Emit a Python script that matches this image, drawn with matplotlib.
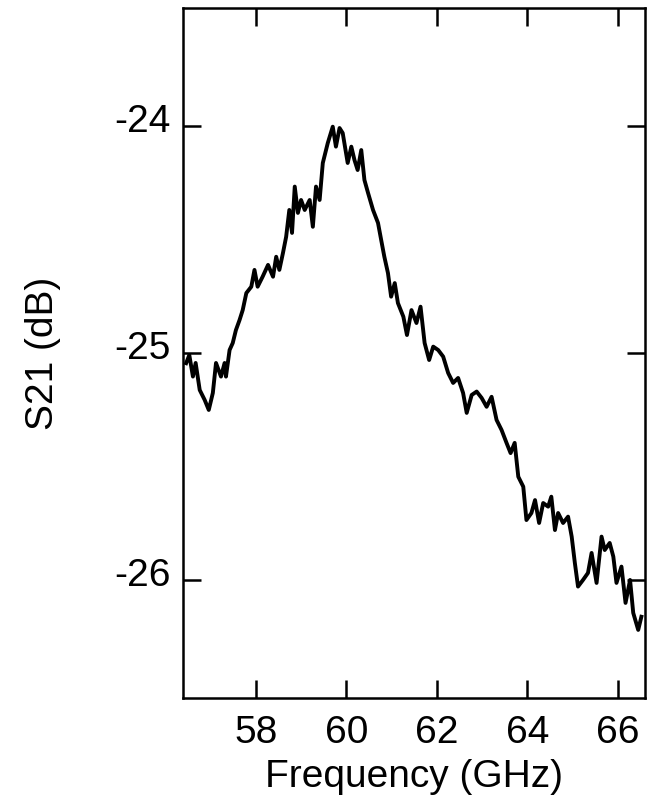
import matplotlib
matplotlib.use("Agg")
import matplotlib.pyplot as plt
import matplotlib.transforms as mtransforms

plt.rcParams['font.family'] = ['Liberation Sans', 'DejaVu Sans']

# traced S21 trace (GHz, dB)
freq_ghz = [
    56.46, 56.53, 56.61, 56.67, 56.76, 56.87, 56.96, 57.05, 57.12, 57.23,
    57.31, 57.34, 57.42, 57.49, 57.56, 57.64, 57.71, 57.79, 57.90, 57.97,
    58.04, 58.15, 58.27, 58.38, 58.45, 58.52, 58.60, 58.67, 58.74, 58.80,
    58.86, 58.93, 59.00, 59.08, 59.19, 59.26, 59.33, 59.41, 59.48, 59.59,
    59.70, 59.77, 59.85, 59.92, 60.03, 60.11, 60.18, 60.25, 60.33, 60.40,
    60.48, 60.59, 60.70, 60.77, 60.84, 60.92, 60.99, 61.07, 61.14, 61.26,
    61.34, 61.44, 61.55, 61.64, 61.73, 61.83, 61.92, 62.03, 62.14, 62.25,
    62.36, 62.47, 62.58, 62.66, 62.77, 62.88, 62.99, 63.10, 63.21, 63.32,
    63.43, 63.54, 63.63, 63.72, 63.80, 63.91, 63.98, 64.09, 64.17, 64.26,
    64.35, 64.46, 64.53, 64.61, 64.68, 64.79, 64.90, 64.98, 65.05, 65.12,
    65.23, 65.34, 65.42, 65.53, 65.64, 65.71, 65.82, 65.90, 65.97, 66.08,
    66.17, 66.27, 66.34, 66.45, 66.52,
]
s21_db = [
    -25.045, -25.009, -25.104, -25.044, -25.163, -25.207, -25.251, -25.176, -25.044, -25.104,
    -25.044, -25.104, -24.987, -24.956, -24.899, -24.855, -24.811, -24.736, -24.708, -24.634,
    -24.708, -24.664, -24.612, -24.664, -24.576, -24.634, -24.559, -24.488, -24.370, -24.471,
    -24.267, -24.383, -24.326, -24.370, -24.326, -24.444, -24.267, -24.326, -24.163, -24.075,
    -24.003, -24.091, -24.009, -24.031, -24.163, -24.091, -24.150, -24.194, -24.106, -24.238,
    -24.295, -24.370, -24.427, -24.502, -24.576, -24.648, -24.752, -24.692, -24.780, -24.840,
    -24.921, -24.811, -24.868, -24.796, -24.956, -25.031, -24.972, -24.987, -25.016, -25.088,
    -25.132, -25.110, -25.176, -25.264, -25.185, -25.170, -25.198, -25.237, -25.193, -25.295,
    -25.339, -25.396, -25.441, -25.396, -25.545, -25.589, -25.736, -25.705, -25.648, -25.749,
    -25.661, -25.677, -25.633, -25.780, -25.705, -25.749, -25.721, -25.809, -25.925, -26.029,
    -26.000, -25.969, -25.881, -26.013, -25.809, -25.868, -25.837, -25.897, -26.013, -25.941,
    -26.101, -26.000, -26.145, -26.220, -26.162,
]

x_ticks = [58, 60, 62, 64, 66]
y_ticks = [-26, -25, -24]

fig = plt.figure(figsize=(6.47, 7.95), dpi=100)
ax = fig.add_axes([0.2828, 0.122, 0.7141, 0.868])

ax.plot(freq_ghz, s21_db, color='black', linewidth=2.8)

ax.set_xlim(56.39, 66.6)
ax.set_ylim(-26.52, -23.48)
ax.set_xticks(x_ticks)
ax.set_yticks(y_ticks)
ax.set_xticklabels([str(t) for t in x_ticks])
ax.set_yticklabels([str(t) for t in y_ticks])

for side in ax.spines.values():
    side.set_linewidth(1.8)
ax.tick_params(direction='in', length=13, width=1.8, labelsize=28,
               top=True, right=True)
ax.tick_params(axis='x', pad=12)
ax.tick_params(axis='y', pad=9)

# y tick labels sit a little above their ticks in the original
shift = mtransforms.ScaledTranslation(0, 6 / 72, fig.dpi_scale_trans)
for lab in ax.get_yticklabels():
    lab.set_transform(lab.get_transform() + shift)

ax.set_xlabel('Frequency (GHz)', fontsize=28, labelpad=6)
ax.set_ylabel('S21 (dB)', fontsize=28, labelpad=38)

fig.savefig('out.png', dpi=100)
